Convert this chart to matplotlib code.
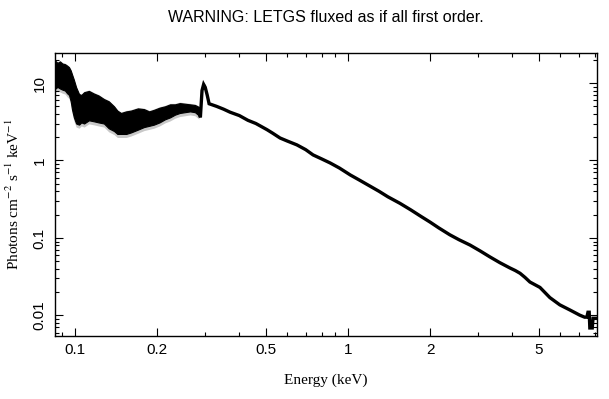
import numpy as np
import matplotlib.pyplot as plt
from matplotlib.ticker import FixedLocator, LogLocator, NullFormatter, FixedFormatter

# low-energy part: many noisy bins, read as an envelope (keV, photons/cm2/s/keV)
band_energy = [0.0845, 0.0863, 0.0881, 0.090, 0.0919, 0.0935, 0.0951, 0.0965, 0.0975, 0.0991,
               0.1010, 0.1035, 0.1055, 0.108, 0.1125, 0.1174, 0.122, 0.1277, 0.133, 0.139,
               0.1430, 0.1474, 0.1540, 0.1603, 0.170, 0.179, 0.187, 0.1946, 0.204, 0.2137,
               0.2230, 0.2324, 0.2420, 0.2528, 0.2640, 0.2751, 0.2846]
band_hi = [19.5, 18.2, 19.0, 17.8, 17.5, 16.8, 16.0, 14.5, 13.0, 11.0,
           8.8, 7.2, 7.0, 7.6, 7.9, 7.3, 6.9, 6.2, 5.8, 5.0,
           4.4, 4.1, 4.3, 4.4, 4.7, 4.6, 4.3, 4.5, 4.8, 5.0,
           5.3, 5.3, 5.5, 5.4, 5.3, 5.2, 4.9]
band_lo = [8.4, 8.9, 8.5, 8.2, 8.0, 7.4, 7.0, 5.8, 4.6, 3.6,
           3.0, 2.9, 3.1, 3.0, 3.3, 3.2, 3.1, 3.0, 2.6, 2.4,
           2.2, 2.2, 2.2, 2.3, 2.5, 2.7, 2.8, 2.9, 3.1, 3.4,
           3.6, 3.9, 4.1, 4.2, 4.3, 4.2, 3.8]

# higher energies: single spectrum
line_energy = [0.2846, 0.288, 0.292, 0.296, 0.300, 0.305, 0.310, 0.33, 0.35, 0.37,
               0.40, 0.43, 0.46, 0.505, 0.53, 0.564, 0.60, 0.65, 0.70, 0.745,
               0.80, 0.86, 0.93, 1.02, 1.1, 1.2, 1.3, 1.4, 1.55, 1.7,
               1.85, 2.0, 2.15, 2.36, 2.55, 2.80, 3.05, 3.31, 3.6, 3.92,
               4.1, 4.27, 4.45, 4.64, 5.05, 5.49, 5.97, 6.49, 7.06, 7.36,
               7.50, 7.57, 7.65, 7.69, 7.85, 7.90, 7.95, 8.2]
line_flux = [4.6, 3.6, 8.0, 9.6, 8.8, 7.0, 5.4, 5.0, 4.6, 4.2,
             3.8, 3.3, 3.0, 2.5, 2.25, 1.95, 1.78, 1.59, 1.38, 1.18,
             1.05, 0.93, 0.80, 0.65, 0.56, 0.47, 0.40, 0.34, 0.28, 0.23,
             0.19, 0.16, 0.135, 0.11, 0.095, 0.081, 0.068, 0.057, 0.048, 0.041,
             0.038, 0.035, 0.031, 0.027, 0.023, 0.017, 0.0137, 0.0118, 0.0101, 0.0095,
             0.0095, 0.011, 0.011, 0.0069, 0.0069, 0.0092, 0.0092, 0.0092]

xticks = [0.1, 0.2, 0.5, 1, 2, 5]
xlabels = ['0.1', '0.2', '0.5', '1', '2', '5']
yticks = [0.01, 0.1, 1, 10]
ylabels = ['0.01', '0.1', '1', '10']

plt.rcParams['mathtext.fontset'] = 'stix'

fig = plt.figure(figsize=(6.09, 3.99), dpi=100)
ax = fig.add_axes([0.0903, 0.1579, 0.8900, 0.7093])
ax.set_xscale('log')
ax.set_yscale('log')

be = np.array(band_energy)
ax.fill_between(be, np.array(band_lo) * 0.9, np.array(band_hi) * 1.03,
                color='#c8c8c8', lw=0)
ax.fill_between(be, band_lo, band_hi, color='black', lw=0.8, edgecolor='black')
ax.plot(line_energy, line_flux, color='black', lw=2.4, solid_joinstyle='miter')

ax.set_xlim(0.0845, 8.17)
ax.set_ylim(0.00543, 24.4)

ax.xaxis.set_major_locator(FixedLocator(xticks))
ax.xaxis.set_major_formatter(FixedFormatter(xlabels))
ax.xaxis.set_minor_locator(LogLocator(base=10, subs=np.arange(2, 10), numticks=20))
ax.xaxis.set_minor_formatter(NullFormatter())
ax.yaxis.set_major_locator(FixedLocator(yticks))
ax.yaxis.set_major_formatter(FixedFormatter(ylabels))
ax.yaxis.set_minor_locator(LogLocator(base=10, subs=np.arange(2, 10), numticks=20))
ax.yaxis.set_minor_formatter(NullFormatter())

ax.tick_params(which='both', direction='in', top=True, right=True, width=0.8)
ax.tick_params(which='major', length=6)
ax.tick_params(which='minor', length=3)
ax.tick_params(axis='x', pad=5, labelsize=11)
ax.tick_params(axis='y', pad=6, labelsize=11, labelrotation=90)
for lab in ax.get_xticklabels() + ax.get_yticklabels():
    lab.set_fontfamily('Liberation Sans')
for lab in ax.get_yticklabels():
    lab.set_va('center')
for s in ax.spines.values():
    s.set_linewidth(1.0)

ax.set_xlabel('Energy (keV)', fontfamily='Liberation Serif', fontsize=11, labelpad=12)
ax.set_ylabel('Photons cm$^{-2}$ s$^{-1}$ keV$^{-1}$', fontfamily='Liberation Serif',
              fontsize=11, labelpad=8)

fig.text(0.535, 1 - 18 / 399, 'WARNING: LETGS fluxed as if all first order.',
         ha='center', va='center', fontfamily='Liberation Sans', fontsize=11.5)

fig.savefig('out.png', dpi=100)
